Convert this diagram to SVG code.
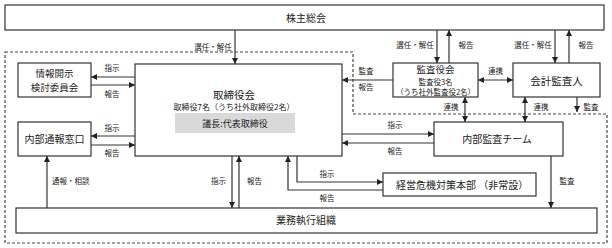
<svg xmlns="http://www.w3.org/2000/svg" width="612" height="248" viewBox="0 0 612 248">
<defs>
<marker id="ah" markerWidth="6" markerHeight="6" refX="6" refY="3" orient="auto" markerUnits="userSpaceOnUse">
<path d="M0,0 L6,3 L0,6 Z" fill="#222"/>
</marker>
<marker id="as" markerWidth="6" markerHeight="6" refX="0" refY="3" orient="auto" markerUnits="userSpaceOnUse">
<path d="M6,0 L0,3 L6,6 Z" fill="#222"/>
</marker>
<style>
.box{fill:#fff;stroke:#333;stroke-width:1.2}
.ln{fill:none;stroke:#333;stroke-width:1.2}
.dash{fill:none;stroke:#444;stroke-width:1.2;stroke-dasharray:3 2}
text{font-family:"Noto Sans CJK JP","Noto Sans CJK SC",sans-serif;fill:#222}
.t{font-size:10px;text-anchor:middle}
.s{font-size:8px;text-anchor:middle}
.l{font-size:7.5px;text-anchor:middle}
</style>
</defs>
<path class="dash" d="M5,52 H353 V114 H607 V243 H5 Z"/>
<g id="shareholders"><rect class="box" x="5" y="5" width="599" height="25"/><text class="t" x="306" y="21.5">株主総会</text></g>
<g id="disclosure"><rect class="box" x="18" y="63" width="73" height="34"/><text class="t" x="54.5" y="77" style="font-size:9.5px">情報開示</text><text class="t" x="54.5" y="91" style="font-size:9.5px">検討委員会</text></g>
<g id="whistle"><rect class="box" x="18" y="122" width="73" height="34"/><text class="t" x="54.5" y="143">内部通報窓口</text></g>
<g id="board"><rect class="box" x="135" y="64" width="207" height="92"/><text class="t" x="234" y="99" style="font-size:10.5px">取締役会</text><text class="s" x="234" y="110">取締役7名（うち社外取締役2名）</text><rect x="175" y="113" width="120" height="20" fill="#d9d9d9"/><text class="t" x="235" y="127" style="font-size:9px">議長:代表取締役</text></g>
<g id="auditboard"><rect class="box" x="393" y="63" width="85" height="34"/><text class="t" x="435.5" y="73" style="font-size:9.5px">監査役会</text><text class="s" x="435.5" y="84.5" style="font-size:7.5px">監査役3名</text><text class="s" x="435.5" y="95.3" style="font-size:7.5px">（うち社外監査役2名）</text></g>
<g id="accountant"><rect class="box" x="513" y="63" width="87" height="34"/><text class="t" x="556.5" y="84.5" style="font-size:10.5px">会計監査人</text></g>
<g id="internalaudit"><rect class="box" x="434" y="122" width="129" height="34"/><text class="t" x="497" y="143">内部監査チーム</text></g>
<g id="crisis"><rect class="box" x="383" y="173" width="153" height="23"/><text class="t" x="396" y="188.5" style="text-anchor:start">経営危機対策本部 （非常設）</text></g>
<g id="business"><rect class="box" x="16" y="208" width="581" height="25"/><text class="t" x="306" y="224">業務執行組織</text></g>
<g id="connectors">
<line class="ln" x1="235" y1="30" x2="235" y2="64" marker-end="url(#ah)"/>
<text class="l" x="213" y="50">選任・解任</text>
<line class="ln" x1="135" y1="77" x2="91" y2="77" marker-end="url(#ah)"/>
<line class="ln" x1="91" y1="85" x2="135" y2="85" marker-end="url(#ah)"/>
<text class="l" x="112" y="71">指示</text><text class="l" x="112" y="97">報告</text>
<line class="ln" x1="135" y1="136" x2="91" y2="136" marker-end="url(#ah)"/>
<line class="ln" x1="91" y1="145" x2="135" y2="145" marker-end="url(#ah)"/>
<text class="l" x="112" y="131">指示</text><text class="l" x="112" y="156">報告</text>
<line class="ln" x1="47" y1="208" x2="47" y2="156" marker-end="url(#ah)"/>
<text class="l" x="52" y="184" style="text-anchor:start">通報・相談</text>
<line class="ln" x1="232" y1="156" x2="232" y2="208" marker-end="url(#ah)"/>
<line class="ln" x1="239" y1="208" x2="239" y2="156" marker-end="url(#ah)"/>
<text class="l" x="218.5" y="184">指示</text><text class="l" x="254.5" y="184">報告</text>
<polyline class="ln" points="297,156 297,182 383,182" marker-end="url(#ah)"/>
<polyline class="ln" points="383,190 288,190 288,156" marker-end="url(#ah)"/>
<text class="l" x="327" y="177">指示</text><text class="l" x="327" y="201">報告</text>
<line class="ln" x1="342" y1="134" x2="434" y2="134" marker-end="url(#ah)"/>
<line class="ln" x1="434" y1="143" x2="342" y2="143" marker-end="url(#ah)"/>
<text class="l" x="395" y="128">指示</text><text class="l" x="395" y="154">報告</text>
<line class="ln" x1="551" y1="156" x2="551" y2="208" marker-end="url(#ah)"/>
<text class="l" x="567" y="184">監査</text>
<line class="ln" x1="393" y1="80" x2="342" y2="80" marker-end="url(#ah)"/>
<text class="l" x="366" y="74">監査</text><text class="l" x="366" y="90">報告</text>
<line class="ln" x1="478" y1="80" x2="513" y2="80" marker-start="url(#as)" marker-end="url(#ah)"/>
<text class="l" x="495.5" y="74">連携</text>
<line class="ln" x1="437" y1="30" x2="437" y2="63" marker-end="url(#ah)"/>
<line class="ln" x1="449" y1="63" x2="449" y2="30" marker-end="url(#ah)"/>
<text class="l" x="415" y="48">選任・解任</text><text class="l" x="466" y="48">報告</text>
<line class="ln" x1="555" y1="30" x2="555" y2="63" marker-end="url(#ah)"/>
<line class="ln" x1="569" y1="63" x2="569" y2="30" marker-end="url(#ah)"/>
<text class="l" x="533" y="48">選任・解任</text><text class="l" x="586" y="48">報告</text>
<line class="ln" x1="465" y1="97" x2="465" y2="122" marker-start="url(#as)" marker-end="url(#ah)"/>
<text class="l" x="451" y="110">連携</text>
<line class="ln" x1="525" y1="97" x2="525" y2="122" marker-start="url(#as)" marker-end="url(#ah)"/>
<text class="l" x="541" y="110">連携</text>
<line class="ln" x1="577" y1="97" x2="577" y2="112" marker-end="url(#ah)"/>
<text class="l" x="591" y="110">監査</text>
</g>
</svg>
